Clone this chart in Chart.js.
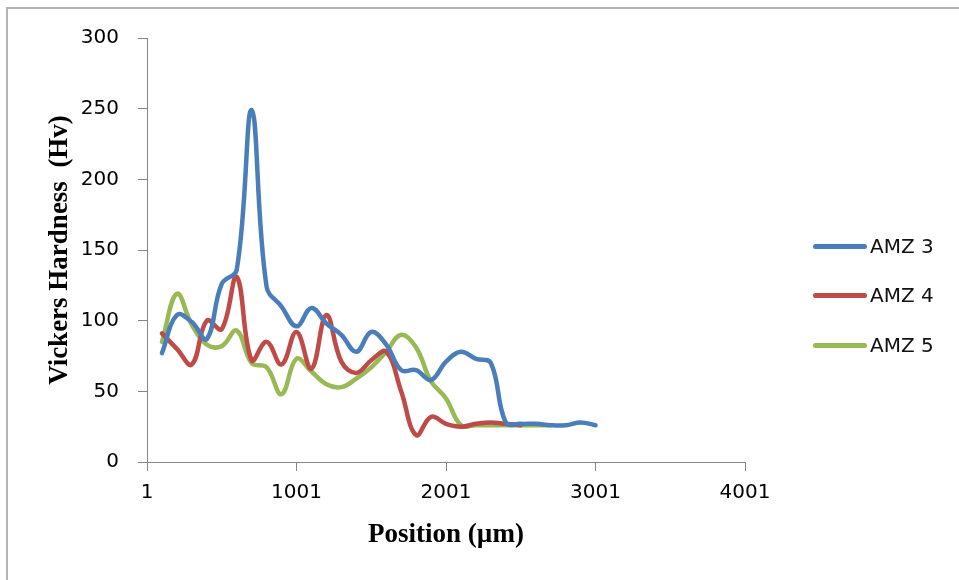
<!DOCTYPE html>
<html>
<head>
<meta charset="utf-8">
<title>Vickers Hardness</title>
<script src="https://cdn.jsdelivr.net/npm/chart.js@4"></script>
<style>
  html, body { margin: 0; padding: 0; background: #fff; overflow: hidden; }
  #wrap { position: relative; width: 959px; height: 580px; }
  #frame {
    position: absolute; left: 6px; top: 7px; width: 1000px; height: 1000px;
    border: 2px solid #b4b4b4; box-sizing: border-box;
  }
  #chart { position: absolute; left: 0; top: 0; }
  .legend { position: absolute; left: 813px; font: 20px "DejaVu Sans", sans-serif; color: #111; }
  .legend div { position: absolute; left: 0; height: 24px; line-height: 24px; white-space: nowrap; }
  .legend span.sw { position: absolute; left: 0; top: 10px; width: 54px; height: 5px; border-radius: 3px; }
  .legend span.tx { position: absolute; left: 57px; top: 0; }
</style>
</head>
<body>
<div id="wrap">
  <div id="frame"></div>
  <canvas id="chart" width="959" height="580"></canvas>
  <div class="legend" id="legend"></div>
</div>
<script>
// posições (µm) — eixo de categorias do Excel: 1, 101, 201, ...
const positions = [101, 201, 301, 401, 501, 601, 701, 801, 901, 1001,
                   1101, 1201, 1301, 1401, 1501, 1601, 1701, 1801, 1901, 2001,
                   2101, 2201, 2301, 2401, 2501, 2601, 2701, 2801, 2901, 3001];

const amz3 = [77, 104, 99, 87, 126, 136, 249, 124, 110, 96,
              109, 98, 90, 78, 92, 83, 65, 65, 58, 71,
              78, 73, 70, 28, 27, 27, 26, 26, 28, 26];
const amz4 = [91, 80, 69, 100, 94, 131, 72, 85, 69, 92,
              66, 104, 71, 63, 72, 78, 50, 19, 32, 27,
              25, 27, 28, 27, 26];
const amz5 = [85, 119, 97, 83, 82, 93, 70, 67, 48, 73,
              64, 55, 53, 59, 67, 78, 90, 81, 57, 45,
              26, 26, 26, 26, 26, 26, 26];

const xTicks = [1, 1001, 2001, 3001, 4001];
const yTicks = [0, 50, 100, 150, 200, 250, 300];

const seriesNames = ['AMZ 3', 'AMZ 4', 'AMZ 5'];
const seriesColors = ['#4a7ebb', '#be4b48', '#98b954'];

const toPoints = (vals) => vals.map((v, i) => ({ x: positions[i], y: v }));

const axisColor = '#868686';
const tickFont = { family: '"DejaVu Sans", sans-serif', size: 20 };
const titleFont = { family: '"Liberation Serif", "Times New Roman", serif', size: 27, weight: 'bold' };

const mkDataset = (label, vals, color) => ({
    label,
    data: toPoints(vals),
    borderColor: color,
    backgroundColor: color,
    borderWidth: 4.5,
    borderCapStyle: 'round',
    borderJoinStyle: 'round',
    pointRadius: 0,
    tension: 0.4,
    fill: false
});

new Chart(document.getElementById('chart').getContext('2d'), {
    type: 'line',
    data: {
        datasets: [
            mkDataset(seriesNames[0], amz3, seriesColors[0]),
            mkDataset(seriesNames[1], amz4, seriesColors[1]),
            mkDataset(seriesNames[2], amz5, seriesColors[2])
        ]
    },
    options: {
        responsive: false,
        animation: false,
        layout: { padding: { left: 0, top: 38, right: 214, bottom: 0 } },
        plugins: { legend: { display: false }, tooltip: { enabled: false } },
        scales: {
            x: {
                type: 'linear',
                min: xTicks[0],
                max: xTicks[xTicks.length - 1],
                afterBuildTicks: (s) => { s.ticks = xTicks.map(v => ({ value: v })); },
                afterFit: (s) => { s.height = 118; },
                border: { display: true, color: axisColor, width: 1 },
                grid: { drawOnChartArea: false, drawTicks: true, tickLength: 9, color: axisColor },
                ticks: {
                    color: '#000', font: tickFont, padding: 10, maxRotation: 0, autoSkip: false,
                    callback: (v) => String(v)   // sem separador de milhar
                },
                title: {
                    display: true, text: 'Position (µm)', color: '#000', font: titleFont,
                    padding: { top: 0, bottom: 29 }
                }
            },
            y: {
                min: yTicks[0],
                max: yTicks[yTicks.length - 1],
                afterBuildTicks: (s) => { s.ticks = yTicks.map(v => ({ value: v })); },
                afterFit: (s) => { s.width = 147; },
                border: { display: true, color: axisColor, width: 1 },
                grid: { drawOnChartArea: false, drawTicks: true, tickLength: 9, color: axisColor },
                ticks: { color: '#000', font: tickFont, padding: 19, callback: (v) => String(v) },
                title: {
                    display: true, text: 'Vickers Hardness  (Hv)', color: '#000', font: titleFont,
                    padding: { top: 44, bottom: 0 }
                }
            }
        }
    }
});

// legenda à direita (como no Excel)
const legendTops = [234, 283, 333];
const legend = document.getElementById('legend');
seriesNames.forEach((name, i) => {
    const row = document.createElement('div');
    row.style.top = legendTops[i] + 'px';
    row.innerHTML = '<span class="sw" style="background:' + seriesColors[i] + '"></span><span class="tx">' + name + '</span>';
    legend.appendChild(row);
});
</script>
</body>
</html>
